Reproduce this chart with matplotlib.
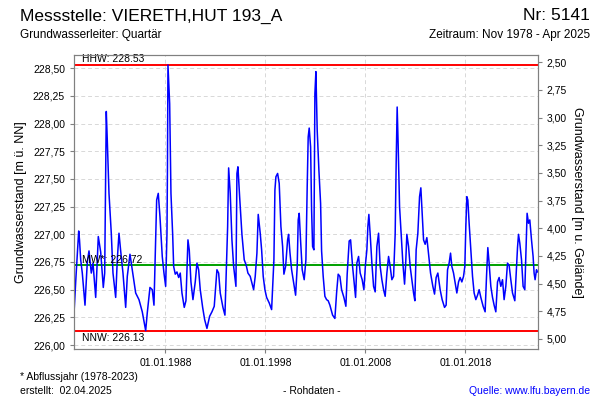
import matplotlib
matplotlib.use('Agg')
import matplotlib.pyplot as plt
from matplotlib.ticker import FuncFormatter

plt.rcParams['font.family'] = ['Liberation Sans', 'DejaVu Sans']

# Kennwerte der Messstelle
GROUND = 231.055
HHW = 228.53
MW = 226.72
NNW = 226.13

# Ganglinie (Dezimaljahr / m ü. NN)
years = [
    1978.87, 1979.05, 1979.32, 1979.40, 1979.52, 1979.68, 1979.95, 1980.18, 1980.35, 1980.58,
    1980.75, 1981.02, 1981.28, 1981.52, 1981.78, 1981.92, 1982.08, 1982.18, 1982.35, 1982.58,
    1982.75, 1983.02, 1983.18, 1983.35, 1983.52, 1983.75, 1984.02, 1984.18, 1984.45, 1984.68,
    1985.02, 1985.35, 1985.68, 1986.02, 1986.18, 1986.45, 1986.68, 1986.85, 1987.12, 1987.28,
    1987.45, 1987.68, 1987.85, 1988.02, 1988.15, 1988.20, 1988.25, 1988.42, 1988.55, 1988.72,
    1988.82, 1988.98, 1989.15, 1989.32, 1989.48, 1989.65, 1989.88, 1990.05, 1990.25, 1990.38,
    1990.55, 1990.75, 1990.98, 1991.15, 1991.32, 1991.48, 1991.72, 1991.92, 1992.15, 1992.42,
    1992.65, 1992.88, 1993.15, 1993.32, 1993.48, 1993.75, 1993.95, 1994.08, 1994.22, 1994.32,
    1994.48, 1994.65, 1994.82, 1995.05, 1995.15, 1995.25, 1995.42, 1995.65, 1995.88, 1996.08,
    1996.25, 1996.48, 1996.65, 1996.82, 1996.98, 1997.15, 1997.28, 1997.48, 1997.62, 1997.78,
    1997.95, 1998.12, 1998.38, 1998.62, 1998.85, 1998.95, 1999.05, 1999.22, 1999.38, 1999.55,
    1999.72, 1999.85, 2000.02, 2000.22, 2000.32, 2000.45, 2000.62, 2000.78, 2001.02, 2001.18,
    2001.28, 2001.38, 2001.52, 2001.68, 2001.88, 2002.05, 2002.18, 2002.28, 2002.38, 2002.52,
    2002.62, 2002.72, 2002.85, 2002.95, 2003.05, 2003.18, 2003.35, 2003.52, 2003.62, 2003.78,
    2003.95, 2004.12, 2004.28, 2004.45, 2004.72, 2004.95, 2005.12, 2005.28, 2005.45, 2005.62,
    2005.85, 2006.05, 2006.18, 2006.38, 2006.52, 2006.72, 2006.92, 2007.02, 2007.15, 2007.32,
    2007.48, 2007.68, 2007.85, 2008.02, 2008.15, 2008.25, 2008.35, 2008.48, 2008.65, 2008.82,
    2008.98, 2009.15, 2009.32, 2009.48, 2009.65, 2009.82, 2009.98, 2010.15, 2010.32, 2010.48,
    2010.65, 2010.82, 2010.98, 2011.08, 2011.18, 2011.28, 2011.42, 2011.58, 2011.75, 2011.92,
    2012.02, 2012.15, 2012.32, 2012.48, 2012.65, 2012.82, 2012.95, 2013.08, 2013.25, 2013.42,
    2013.55, 2013.68, 2013.82, 2013.98, 2014.15, 2014.35, 2014.52, 2014.75, 2014.92, 2015.08,
    2015.25, 2015.48, 2015.68, 2015.92, 2016.08, 2016.22, 2016.38, 2016.52, 2016.65, 2016.82,
    2016.98, 2017.15, 2017.32, 2017.48, 2017.65, 2017.82, 2017.95, 2018.05, 2018.15, 2018.25,
    2018.38, 2018.55, 2018.72, 2018.88, 2019.05, 2019.22, 2019.38, 2019.55, 2019.78, 2019.98,
    2020.12, 2020.25, 2020.38, 2020.55, 2020.72, 2020.88, 2021.05, 2021.22, 2021.38, 2021.55,
    2021.72, 2021.88, 2022.05, 2022.22, 2022.38, 2022.55, 2022.72, 2022.95, 2023.12, 2023.22,
    2023.32, 2023.45, 2023.62, 2023.78, 2023.95, 2024.08, 2024.18, 2024.32, 2024.45, 2024.62,
    2024.78, 2024.88, 2024.98, 2025.12, 2025.20,
]
levels = [
    226.32, 226.62, 227.03, 226.95, 226.77, 226.65, 226.36, 226.75, 226.85, 226.65,
    226.74, 226.43, 226.98, 226.84, 226.52, 226.65, 228.11, 227.85, 227.37, 227.01,
    226.65, 226.43, 226.77, 227.01, 226.85, 226.65, 226.34, 226.62, 226.82, 226.68,
    226.47, 226.41, 226.30, 226.13, 226.29, 226.52, 226.50, 226.36, 227.31, 227.37,
    227.16, 226.80, 226.65, 226.53, 227.00, 227.60, 228.53, 228.18, 227.37, 227.00,
    226.71, 226.64, 226.66, 226.61, 226.65, 226.47, 226.34, 226.40, 226.95, 226.86,
    226.57, 226.41, 226.57, 226.74, 226.68, 226.50, 226.34, 226.23, 226.15, 226.26,
    226.30, 226.35, 226.68, 226.65, 226.47, 226.34, 226.27, 226.65, 227.07, 227.60,
    227.37, 226.95, 226.71, 226.53, 227.55, 227.61, 227.34, 227.00, 226.77, 226.72,
    226.65, 226.62, 226.56, 226.50, 226.62, 226.83, 227.18, 227.01, 226.86, 226.62,
    226.50, 226.43, 226.38, 226.32, 226.77, 227.40, 227.52, 227.55, 227.46, 227.07,
    226.89, 226.64, 226.71, 226.95, 227.00, 226.84, 226.68, 226.59, 226.45, 226.71,
    227.13, 227.19, 226.94, 226.68, 226.59, 226.77, 227.43, 227.88, 227.96, 227.79,
    227.22, 226.89, 226.86, 228.27, 228.47, 227.94, 227.58, 227.28, 226.85, 226.62,
    226.44, 226.41, 226.40, 226.36, 226.27, 226.24, 226.47, 226.64, 226.62, 226.50,
    226.43, 226.35, 226.64, 226.94, 226.95, 226.71, 226.53, 226.43, 226.74, 226.80,
    226.65, 226.59, 226.50, 226.74, 226.86, 227.07, 227.18, 227.00, 226.74, 226.53,
    226.48, 226.89, 227.01, 226.71, 226.59, 226.50, 226.44, 226.65, 226.80, 226.71,
    226.59, 226.62, 227.00, 227.64, 228.15, 227.81, 227.25, 227.00, 226.74, 226.55,
    226.71, 227.00, 226.89, 226.71, 226.59, 226.47, 226.40, 226.86, 227.01, 227.34,
    227.42, 227.19, 226.95, 226.91, 226.97, 226.80, 226.65, 226.53, 226.46, 226.61,
    226.65, 226.50, 226.41, 226.34, 226.36, 226.68, 226.74, 226.83, 226.71, 226.65,
    226.56, 226.47, 226.57, 226.61, 226.57, 226.62, 226.71, 227.07, 227.34, 227.31,
    227.10, 226.86, 226.62, 226.47, 226.41, 226.45, 226.50, 226.43, 226.35, 226.30,
    226.62, 226.88, 226.74, 226.53, 226.43, 226.36, 226.30, 226.57, 226.61, 226.53,
    226.59, 226.41, 226.53, 226.74, 226.72, 226.59, 226.47, 226.40, 226.71, 226.88,
    227.00, 226.92, 226.77, 226.53, 226.50, 226.89, 227.19, 227.10, 227.13, 226.95,
    226.80, 226.65, 226.59, 226.68, 226.66,
]

x_ticks = [1988.0, 1998.0, 2008.0, 2018.0]
x_labels = ['01.01.1988', '01.01.1998', '01.01.2008', '01.01.2018']
y_ticks = [226.00, 226.25, 226.50, 226.75, 227.00, 227.25, 227.50, 227.75, 228.00, 228.25, 228.50]
depth_ticks = [2.50, 2.75, 3.00, 3.25, 3.50, 3.75, 4.00, 4.25, 4.50, 4.75, 5.00]

x_min, x_max = 1978.85, 2025.22
y_min, y_max = 225.964, 228.62


def komma(v, pos):
    return f'{v:.2f}'.replace('.', ',')


fig = plt.figure(figsize=(6, 4), dpi=100)
ax = fig.add_axes([74 / 600, 1 - 349 / 400, (537.5 - 74) / 600, (349 - 55) / 400])

ax.grid(True, color='#d8d8d8', linestyle=(0, (4, 3)), linewidth=0.7)
ax.set_axisbelow(True)

ax.axhline(HHW, color='#ff0000', lw=1.4, zorder=2)
ax.axhline(NNW, color='#ff0000', lw=1.4, zorder=2)
ax.axhline(MW, color='#00a000', lw=1.4, zorder=2)
ax.plot(years, levels, color='#0000ff', lw=1.1, zorder=3)

ax.text(x_min + 0.8, HHW + 0.01, f'HHW: {HHW:.2f}', fontsize=7.5, va='bottom')
ax.text(x_min + 0.8, MW + 0.005, f'MW*: {MW:.2f}', fontsize=7.5, va='bottom', zorder=4)
ax.text(x_min + 0.8, NNW - 0.02, f'NNW: {NNW:.2f}', fontsize=7.5, va='top')

ax.set_xlim(x_min, x_max)
ax.set_ylim(y_min, y_max)
ax.set_xticks(x_ticks)
ax.set_xticklabels(x_labels)
ax.set_yticks(y_ticks)
ax.yaxis.set_major_formatter(FuncFormatter(komma))
ax.tick_params(labelsize=7.5, length=3, color='#808080')
ax.set_ylabel('Grundwasserstand [m ü. NN]', fontsize=9)

ax2 = ax.twinx()
ax2.set_ylim(GROUND - y_min, GROUND - y_max)
ax2.set_yticks(depth_ticks)
ax2.yaxis.set_major_formatter(FuncFormatter(komma))
ax2.tick_params(labelsize=7.5, length=3, color='#808080')
ax2.set_ylabel('Grundwasserstand [m u. Gelände]', fontsize=9, rotation=270, labelpad=12)

for a in (ax, ax2):
    for s in a.spines.values():
        s.set_color('#808080')

fig.text(20 / 600, 1 - 16 / 400, 'Messstelle: VIERETH,HUT 193_A', fontsize=12.5, va='center')
fig.text(590 / 600, 1 - 16 / 400, 'Nr: 5141', fontsize=12.5, va='center', ha='right')
fig.text(20 / 600, 1 - 35 / 400, 'Grundwasserleiter: Quartär', fontsize=8.5, va='center')
fig.text(590 / 600, 1 - 35 / 400, 'Zeitraum: Nov 1978 - Apr 2025', fontsize=8.5, va='center', ha='right')

fig.text(20 / 600, 1 - 377 / 400, '* Abflussjahr (1978-2023)', fontsize=7.5, va='center')
fig.text(20 / 600, 1 - 391 / 400, 'erstellt:  02.04.2025', fontsize=7.5, va='center')
fig.text(312 / 600, 1 - 391 / 400, '- Rohdaten -', fontsize=7.5, va='center', ha='center')
fig.text(590 / 600, 1 - 391 / 400, 'Quelle: www.lfu.bayern.de', fontsize=7.5, va='center',
         ha='right', color='#0000ff')

fig.savefig('out.png', dpi=100)
